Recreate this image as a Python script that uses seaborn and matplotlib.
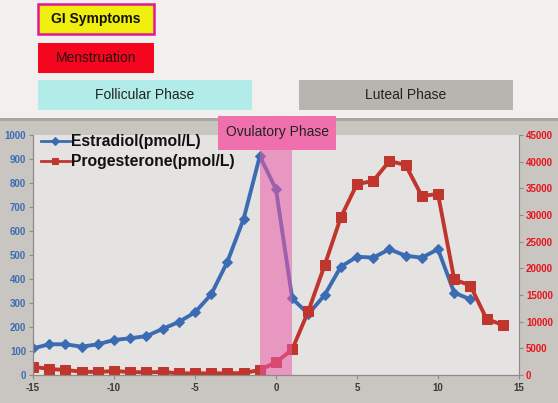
import numpy as np
import pandas as pd
import seaborn as sns
import matplotlib.pyplot as plt
from matplotlib.patches import Rectangle

# values
days_e = list(range(-15, 13))
estradiol = [111, 128, 128, 118, 128, 146, 153, 162, 192, 221, 261, 336, 472, 650,
             912, 774, 319, 254, 333, 451, 493, 489, 524, 497, 489, 524, 343, 315]
days_p = list(range(-15, 15))
progesterone = [1560, 1125, 940, 625, 560, 750, 560, 500, 560, 310, 310, 310, 310, 375,
                940, 2375, 4800, 12000, 20560, 29560, 35800, 36375, 40125, 39375,
                33560, 33940, 17940, 16750, 10500, 9375]
ovulatory_span = [-1, 1]
x_ticks = [-15, -10, -5, 0, 5, 10, 15]
left_ticks = list(range(0, 1001, 100))
right_ticks = list(range(0, 45001, 5000))

df_e = pd.DataFrame({"day": days_e, "value": estradiol})
df_p = pd.DataFrame({"day": days_p, "value": progesterone})

narrow = ["Liberation Sans Narrow", "Liberation Sans", "DejaVu Sans"]
plt.rcParams["font.family"] = ["Liberation Sans", "DejaVu Sans"]
plt.rcParams["axes.unicode_minus"] = False

W, H = 558, 403
fig = plt.figure(figsize=(W / 100, H / 100), dpi=100)
fig.patch.set_facecolor("#f1f0ee")


def px_rect(x0, y0, x1, y1, **kw):
    r = Rectangle((x0 / W, 1 - y1 / H), (x1 - x0) / W, (y1 - y0) / H,
                  transform=fig.transFigure, **kw)
    fig.add_artist(r)
    return r


def px_text(x, y, s, **kw):
    fig.text(x / W, 1 - y / H, s, ha="center", va="center", **kw)


# chart frame
px_rect(0, 118, W, H, facecolor="#c9c5c1", edgecolor="none", zorder=-2)
px_rect(0, 118, W, 121, facecolor="#a9a5a1", edgecolor="none", zorder=-1)

ax = fig.add_axes([33 / W, (H - 375) / H, 486 / W, 240 / H])
ax.set_facecolor("#e5e3e1")
ax2 = ax.twinx()

blue = "#3b6cb3"
red = "#c0362f"

sns.lineplot(data=df_e, x="day", y="value", ax=ax, color=blue, lw=2.8,
             marker="D", markersize=5.5, markeredgecolor=blue, label="Estradiol(pmol/L)",
             legend=False)
sns.lineplot(data=df_p, x="day", y="value", ax=ax2, color=red, lw=2.8,
             marker="s", markersize=6.5, markeredgecolor=red, label="Progesterone(pmol/L)",
             legend=False)

ax2.axvspan(*ovulatory_span, color="#ec5aa8", alpha=0.55, lw=0, zorder=5)

ax.set_xlim(-15, 15)
ax.set_ylim(0, 1000)
ax2.set_ylim(0, 45000)
ax.set_xticks(x_ticks)
ax.set_yticks(left_ticks)
ax2.set_yticks(right_ticks)
ax.set_xlabel("")
ax.set_ylabel("")
ax2.set_ylabel("")

for a in (ax, ax2):
    a.spines["top"].set_visible(False)
    for s in ("left", "right", "bottom"):
        a.spines[s].set_color("#8e8a86")
        a.spines[s].set_linewidth(0.8)
ax.spines["right"].set_visible(False)

ax.tick_params(axis="y", length=3, color="#8e8a86", pad=2)
ax.tick_params(axis="x", length=3, color="#8e8a86", pad=3)
ax2.tick_params(axis="y", length=3, color="#8e8a86", pad=2)
for lab in ax.get_yticklabels():
    lab.set(color=blue, fontweight="bold", fontsize=7, family=narrow)
for lab in ax.get_xticklabels():
    lab.set(color="#3a3a3a", fontweight="bold", fontsize=7, family=narrow)
for lab in ax2.get_yticklabels():
    lab.set(color="#e8121c", fontweight="bold", fontsize=7, family=narrow)

h1, l1 = ax.get_legend_handles_labels()
h2, l2 = ax2.get_legend_handles_labels()
leg = ax2.legend(h1 + h2, l1 + l2, loc="upper left", bbox_to_anchor=(0.0, 1.035),
                 frameon=False, prop={"family": narrow, "weight": "bold", "size": 11.3},
                 handlelength=1.85, handletextpad=0.05,
                 labelspacing=0.3, borderpad=0.2, borderaxespad=0.3)
for t in leg.get_texts():
    t.set_color("#111111")
for hl in leg.get_lines():
    hl.set_linewidth(2.0)
    hl.set_markersize(4)
leg.set_zorder(6)

# phase label boxes
px_rect(38, 4, 154, 34, facecolor="#f0ee0c", edgecolor="#e0189a", lw=1.8)
px_text(96, 19, "GI Symptoms", fontsize=10, fontweight="bold", color="#111111", family=narrow)
px_rect(38, 43, 154, 73, facecolor="#f5061f", edgecolor="none")
px_text(96, 58, "Menstruation", fontsize=10, color="#2a1010", family=narrow)
px_rect(38, 80, 252, 110, facecolor="#b2ece9", edgecolor="none")
px_text(145, 95, "Follicular Phase", fontsize=10, color="#222222", family=narrow)
px_rect(299, 80, 513, 110, facecolor="#b8b4b0", edgecolor="none")
px_text(406, 95, "Luteal Phase", fontsize=10, color="#222222", family=narrow)
px_rect(218, 116, 336, 150, facecolor="#f070ae", edgecolor="none", zorder=10)
px_text(277, 132, "Ovulatory Phase", fontsize=10, color="#222222", family=narrow, zorder=11)

fig.savefig("out.png", dpi=100, facecolor=fig.get_facecolor())
